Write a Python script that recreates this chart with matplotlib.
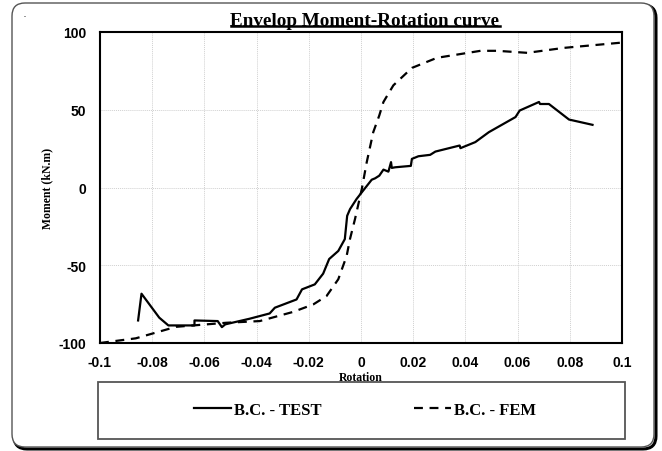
import matplotlib.pyplot as plt
from matplotlib.patches import FancyBboxPatch, Rectangle
from matplotlib.lines import Line2D

plt.rcParams['axes.unicode_minus'] = False

# envelope from the test
test_rot = [-0.0854, -0.0841, -0.0773, -0.0738, -0.0638, -0.0638, -0.0549, -0.0533,
            -0.0520, -0.0427, -0.0350, -0.0330, -0.0247, -0.0226, -0.0177, -0.0145,
            -0.0122, -0.0087, -0.0062, -0.0053, -0.0042, -0.0017, 0.0003, 0.0041,
            0.0054, 0.0070, 0.0086, 0.0105, 0.0115, 0.0118, 0.0131, 0.0191, 0.0195,
            0.0220, 0.0265, 0.0285, 0.0378, 0.0381, 0.0438, 0.0490, 0.0592, 0.0608,
            0.0682, 0.0686, 0.0720, 0.0797, 0.0887]
test_mom = [-85.5, -68.3, -83.7, -88.7, -88.7, -85.5, -85.9, -89.8,
            -88.0, -84.4, -81.0, -77.3, -72.0, -65.5, -62.3, -55.4,
            -46.0, -40.8, -33.2, -18.2, -13.9, -7.4, -3.1, 5.0,
            5.9, 7.6, 11.5, 10.2, 16.3, 12.6, 13.0, 13.9, 18.4,
            20.1, 21.0, 23.1, 27.0, 25.3, 29.2, 35.6, 45.3, 49.5,
            55.0, 53.7, 53.7, 43.7, 40.3]

# envelope from the FE model
fem_rot = [-0.1000, -0.0863, -0.0709, -0.0517, -0.0388, -0.0260, -0.0183, -0.0132,
           -0.0087, -0.0055, -0.0042, -0.0023, 0.0003, 0.0022, 0.0047, 0.0070,
           0.0086, 0.0124, 0.0195, 0.0291, 0.0458, 0.0522, 0.0637, 0.0778, 0.1000]
fem_mom = [-100.0, -97.0, -89.6, -87.0, -85.9, -80.0, -75.2, -69.8,
           -59.0, -44.0, -33.0, -20.3, -1.0, 16.3, 35.6, 46.3,
           55.0, 65.7, 76.9, 83.4, 87.9, 87.9, 86.6, 89.8, 93.2]

xticks = [-0.1, -0.08, -0.06, -0.04, -0.02, 0, 0.02, 0.04, 0.06, 0.08, 0.1]
xticklabels = ['-0.1', '-0.08', '-0.06', '-0.04', '-0.02', '0', '0.02', '0.04', '0.06', '0.08', '0.1']
yticks = [-100, -50, 0, 50, 100]

W, H = 662, 452
fig = plt.figure(figsize=(W/100, H/100), dpi=100)
inch = fig.dpi_scale_trans

# rounded outer frame with a little shadow on the bottom/right
shadow = FancyBboxPatch((14/100, 2/100), 642/100, 444/100, boxstyle="round,pad=0,rounding_size=0.13",
                        transform=inch, fill=False, lw=2.2, ec='black', zorder=-2)
frame = FancyBboxPatch((12/100, 4/100), 642/100, 444/100, boxstyle="round,pad=0,rounding_size=0.13",
                       transform=inch, fc='white', lw=1.0, ec='#555555', zorder=-1)
fig.patches.extend([shadow, frame])
fig.patches.append(Rectangle((24/W, 1-18/H), 1.5/W, 1.5/H, transform=fig.transFigure,
                             fc='#999999', ec='none'))

ax = fig.add_axes([100/W, 1-344/H, 522/W, 311/H])
ax.plot(test_rot, test_mom, color='black', lw=1.6, label='B.C. - TEST')
ax.plot(fem_rot, fem_mom, color='black', lw=1.6, ls=(0, (4, 3)), label='B.C. - FEM')

ax.set_xlim(-0.1, 0.1)
ax.set_ylim(-100, 100)
ax.set_xticks(xticks)
ax.set_xticklabels(xticklabels)
ax.set_yticks(yticks)
ax.grid(True, color='#d0d0d0', lw=0.7, ls=(0, (1, 1)))
ax.tick_params(axis='x', length=0, pad=9)
ax.tick_params(axis='y', length=0, pad=10)
for lab in ax.get_xticklabels() + ax.get_yticklabels():
    lab.set_fontfamily('Liberation Sans')
    lab.set_fontweight('bold')
    lab.set_fontsize(10)
for s in ax.spines.values():
    s.set_linewidth(1.5)

ax.set_xlabel('Rotation', fontfamily='Liberation Serif', fontweight='bold', fontsize=8.5, labelpad=1)
ax.set_ylabel('Moment (kN.m)', fontfamily='Liberation Serif', fontweight='bold', fontsize=8.5, labelpad=4)

title = fig.text(365/W, 1-21/H, 'Envelop Moment-Rotation curve', ha='center', va='center',
                 fontfamily='Liberation Serif', fontweight='bold', fontsize=13.8)

# legend box
fig.patches.append(Rectangle((98/W, 1-440/H), 527/W, 57/H, transform=fig.transFigure,
                             fill=False, lw=1.3, ec='#555555'))
fig.legend(loc='center', bbox_to_anchor=(365/W, 1-411/H), ncol=2, frameon=False,
           prop={'family': 'Liberation Serif', 'weight': 'bold', 'size': 12},
           handlelength=2.2, handletextpad=0.15, columnspacing=5.6)

# underline for the title
fig.canvas.draw()
bb = title.get_window_extent().transformed(fig.transFigure.inverted())
fig.lines.append(Line2D([bb.x0, bb.x1], [bb.y0 + 0.005, bb.y0 + 0.005], transform=fig.transFigure,
                        color='black', lw=1.8))

fig.savefig('out.png', dpi=100)
